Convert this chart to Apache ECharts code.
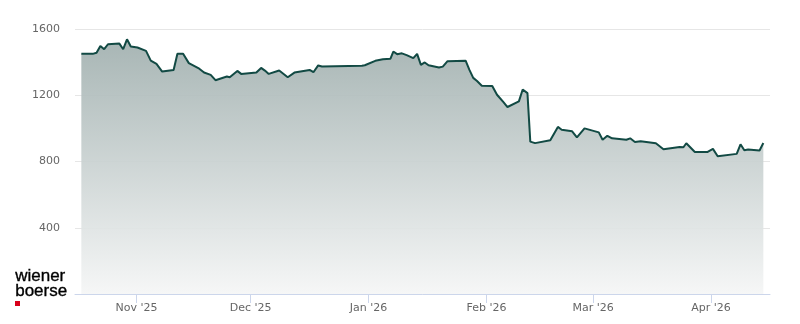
<!DOCTYPE html>
<html>
<head>
<meta charset="utf-8">
<script src="https://cdn.jsdelivr.net/npm/echarts@6/dist/echarts.min.js"></script>
<style>
  html, body { margin: 0; padding: 0; background: #fff; }
  #chart { width: 800px; height: 324px; }
</style>
</head>
<body>
<div id="chart"></div>
<script>
const dates = [
  '2025-10-17 12:00', '2025-10-20 12:00', '2025-10-21 12:00', '2025-10-22 12:00', '2025-10-23 12:00',
  '2025-10-24 12:00', '2025-10-27 12:00', '2025-10-28 12:00', '2025-10-29 12:00', '2025-10-30 12:00',
  '2025-11-01 06:00', '2025-11-03 12:00', '2025-11-04 18:00', '2025-11-06 06:00', '2025-11-07 18:00',
  '2025-11-10 18:00', '2025-11-11 18:00', '2025-11-13 06:00', '2025-11-14 18:00', '2025-11-17 06:00',
  '2025-11-18 18:00', '2025-11-20 12:00', '2025-11-21 18:00', '2025-11-24 18:00', '2025-11-25 12:00',
  '2025-11-27 12:00', '2025-11-28 12:00', '2025-12-02 12:00', '2025-12-03 18:00', '2025-12-04 18:00',
  '2025-12-05 18:00', '2025-12-08 12:00', '2025-12-10 18:00', '2025-12-12 12:00', '2025-12-16 12:00',
  '2025-12-17 12:00', '2025-12-18 18:00', '2025-12-19 18:00', '2025-12-30 06:00', '2025-12-31 00:00',
  '2026-01-02 18:00', '2026-01-04 18:00', '2026-01-06 18:00', '2026-01-07 12:00', '2026-01-08 12:00',
  '2026-01-09 18:00', '2026-01-11 00:00', '2026-01-12 18:00', '2026-01-13 18:00', '2026-01-14 18:00',
  '2026-01-15 18:00', '2026-01-16 18:00', '2026-01-19 12:00', '2026-01-20 12:00', '2026-01-21 18:00',
  '2026-01-26 12:00', '2026-01-27 12:00', '2026-01-28 12:00', '2026-01-29 12:00', '2026-01-30 18:00',
  '2026-02-02 12:00', '2026-02-03 18:00', '2026-02-05 12:00', '2026-02-06 12:00', '2026-02-09 12:00',
  '2026-02-10 12:00', '2026-02-11 18:00', '2026-02-12 12:00', '2026-02-13 18:00', '2026-02-17 18:00',
  '2026-02-19 18:00', '2026-02-20 18:00', '2026-02-23 12:00', '2026-02-24 18:00', '2026-02-26 18:00',
  '2026-03-02 12:00', '2026-03-03 12:00', '2026-03-04 18:00', '2026-03-06 00:00', '2026-03-09 18:00',
  '2026-03-10 18:00', '2026-03-12 00:00', '2026-03-13 12:00', '2026-03-17 12:00', '2026-03-19 12:00',
  '2026-03-23 18:00', '2026-03-24 18:00', '2026-03-25 12:00', '2026-03-27 18:00', '2026-03-31 00:00',
  '2026-04-01 12:00', '2026-04-02 18:00', '2026-04-07 18:00', '2026-04-08 18:00', '2026-04-09 18:00',
  '2026-04-10 18:00', '2026-04-13 18:00', '2026-04-14 18:00'
];
const prices = [
  1450, 1450, 1457, 1498, 1478, 1508, 1512, 1478, 1538, 1494,
  1488, 1468, 1409, 1389, 1343, 1353, 1450, 1450, 1394, 1364,
  1337, 1323, 1291, 1313, 1309, 1347, 1329, 1337, 1365, 1349,
  1329, 1349, 1309, 1337, 1353, 1339, 1380, 1374, 1378, 1381,
  1408, 1417, 1421, 1464, 1448, 1453, 1442, 1424, 1450, 1383,
  1398, 1381, 1367, 1373, 1406, 1409, 1353, 1305, 1286, 1257,
  1256, 1203, 1157, 1129, 1163, 1235, 1213, 920, 911, 928,
  1009, 992, 982, 946, 1000, 976, 931, 955, 940, 931,
  940, 918, 922, 910, 874, 888, 886, 910, 857, 857,
  876, 832, 846, 904, 868, 872, 866, 912
];
const monthNames = ['Jan', 'Feb', 'Mar', 'Apr', 'May', 'Jun', 'Jul', 'Aug', 'Sep', 'Oct', 'Nov', 'Dec'];
const yTicks = [0, 400, 800, 1200, 1600];
const xRange = ['2025-10-15 20:00', '2026-04-16 12:00'];
const logoLines = ['wiener', 'boerse'];

const chart = echarts.init(document.getElementById('chart'), null, { renderer: 'canvas' });
const DAY = 24 * 3600 * 1000;

const option = {
  animation: false,
  backgroundColor: '#ffffff',
  grid: { left: 75, right: 30, top: 29, bottom: 30, containLabel: false },
  xAxis: {
    type: 'time',
    min: xRange[0],
    max: xRange[1],
    minInterval: 28 * DAY,
    maxInterval: 31 * DAY,
    splitNumber: 6,
    axisLine: { show: true, lineStyle: { color: '#ccd6eb', width: 1 } },
    axisTick: { show: true, length: 9, lineStyle: { color: '#ccd6eb', width: 1 } },
    minorTick: { show: false },
    splitLine: { show: false },
    axisLabel: {
      color: '#666666',
      fontFamily: 'DejaVu Sans',
      fontSize: 11,
      margin: 9,
      showMinLabel: false,
      showMaxLabel: false,
      hideOverlap: false,
      formatter: function (val) {
        const d = new Date(val);
        return monthNames[d.getMonth()] + " '" + String(d.getFullYear()).slice(2);
      }
    }
  },
  yAxis: {
    type: 'value',
    min: yTicks[0],
    max: yTicks[yTicks.length - 1],
    interval: yTicks[1] - yTicks[0],
    axisLine: { show: false },
    axisTick: { show: false },
    splitLine: { show: true, lineStyle: { color: '#e6e6e6', width: 1 } },
    axisLabel: {
      color: '#666666',
      fontFamily: 'DejaVu Sans',
      fontSize: 11,
      margin: 15,
      showMinLabel: false,
      formatter: function (v) { return String(v); }
    }
  },
  series: [{
    type: 'line',
    data: dates.map((d, i) => [d, prices[i]]),
    symbol: 'none',
    showSymbol: false,
    smooth: false,
    lineStyle: { color: '#124a44', width: 2 },
    itemStyle: { color: '#124a44' },
    areaStyle: {
      opacity: 0.93,
      color: new echarts.graphic.LinearGradient(0, 0, 0, 1, [
        { offset: 0, color: '#a1b0af' },
        { offset: 1, color: '#f5f6f6' }
      ])
    }
  }],
  graphic: [
    {
      type: 'text', left: 15, top: 268,
      style: { text: logoLines[0], font: '17px "Liberation Sans", Arial, sans-serif', fill: '#000000', stroke: '#000000', lineWidth: 0.35 }
    },
    {
      type: 'text', left: 15, top: 283,
      style: { text: logoLines[1], font: '17px "Liberation Sans", Arial, sans-serif', fill: '#000000', stroke: '#000000', lineWidth: 0.35 }
    },
    {
      type: 'rect', left: 15, top: 301,
      shape: { width: 5, height: 5 },
      style: { fill: '#d8001a' }
    }
  ]
};
chart.setOption(option);
</script>
</body>
</html>
